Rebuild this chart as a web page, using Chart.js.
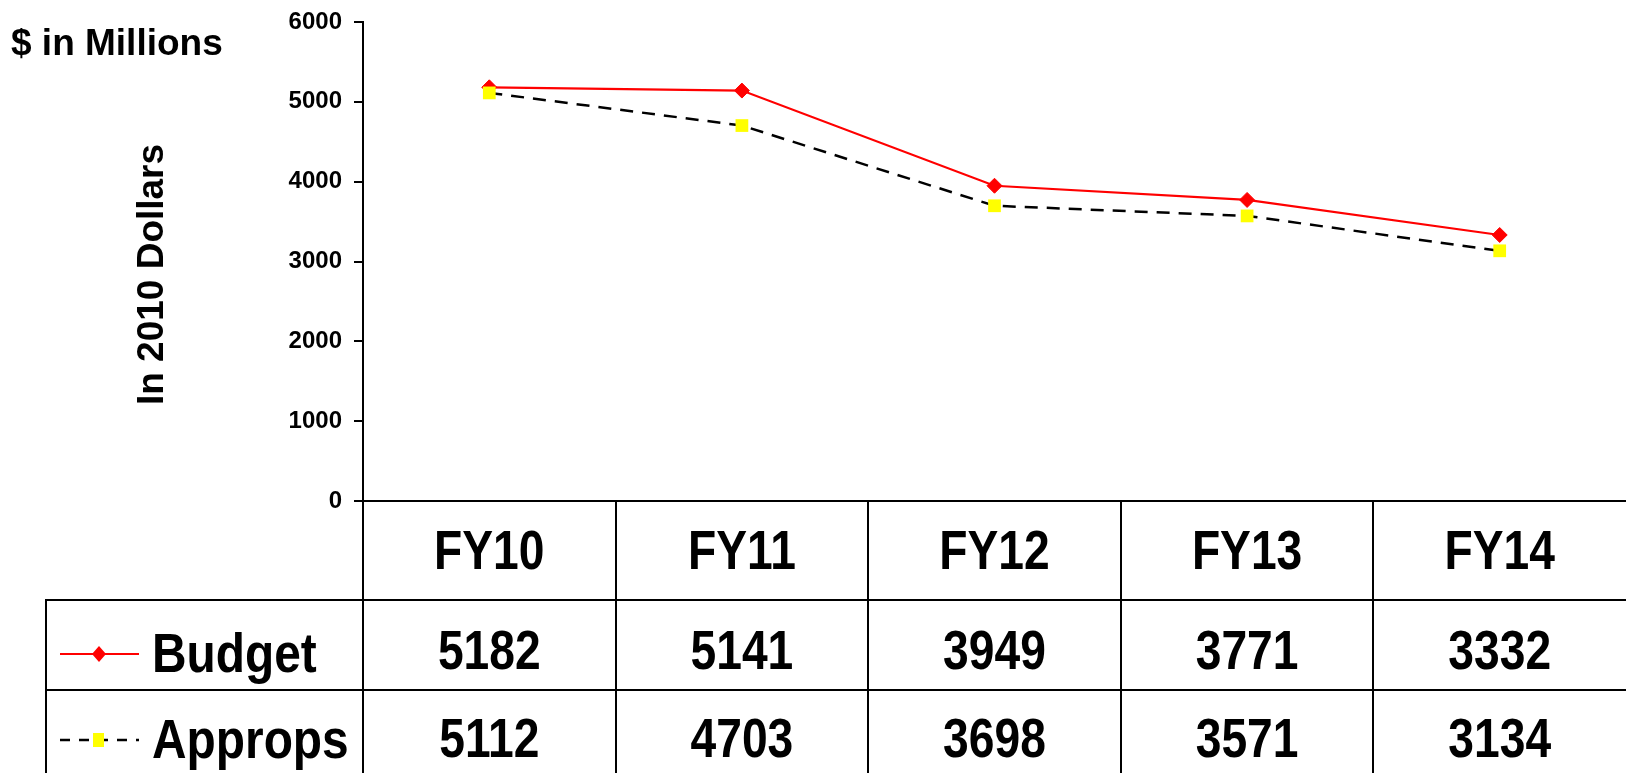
<!DOCTYPE html>
<html>
<head>
<meta charset="utf-8">
<script src="https://cdn.jsdelivr.net/npm/chart.js@4/dist/chart.umd.min.js"></script>
<style>
  html, body { margin: 0; background: #fff; overflow: hidden; }
  #wrap { width: 1626px; height: 773px; position: relative; }
</style>
</head>
<body>
<div id="wrap"><canvas id="fundChart"></canvas></div>
<script>
const years = ["FY10", "FY11", "FY12", "FY13", "FY14"];
const budget = [5182, 5141, 3949, 3771, 3332];
const approps = [5112, 4703, 3698, 3571, 3134];
const seriesNames = ["Budget", "Approps"];
const yMin = 0, yMax = 6000, yStep = 1000;

const FONT = "'Liberation Sans', Arial, Helvetica, sans-serif";

// bold text squeezed sideways, like the narrow face in the original
const narrowText = (ctx, text, x, y, size, squeeze, align) => {
  ctx.save();
  ctx.font = "bold " + size + "px " + FONT;
  ctx.translate(x, y);
  ctx.scale(squeeze, 1);
  ctx.textAlign = align;
  ctx.textBaseline = "alphabetic";
  ctx.fillStyle = "#000";
  ctx.fillText(text, 0, 0);
  ctx.restore();
};

const tablePlugin = {
  id: "dataTable",
  afterDraw(chart) {
    const ctx = chart.ctx;
    const area = chart.chartArea;
    const xs = chart.scales.x;
    const bottom = chart.height;
    const colW = (area.right - area.left) / years.length;
    const headBottom = area.bottom + 99;
    const rowBottom = headBottom + 90;
    const legLeft = 46;

    // grid of the table
    ctx.save();
    ctx.strokeStyle = "#000";
    ctx.lineWidth = 2;
    ctx.beginPath();
    ctx.moveTo(area.left, area.bottom); ctx.lineTo(area.left, bottom);
    for (let i = 1; i < years.length; i++) {
      const x = Math.round(area.left + i * colW);
      ctx.moveTo(x, area.bottom); ctx.lineTo(x, bottom);
    }
    ctx.moveTo(legLeft, headBottom); ctx.lineTo(legLeft, bottom);
    ctx.moveTo(legLeft - 1, headBottom); ctx.lineTo(area.right, headBottom);
    ctx.moveTo(legLeft - 1, rowBottom); ctx.lineTo(area.right, rowBottom);
    ctx.stroke();
    ctx.restore();

    years.forEach((yr, i) => {
      const cx = xs.getPixelForValue(i);
      narrowText(ctx, yr, cx, headBottom - 31, 55, 0.84, "center");
      narrowText(ctx, String(budget[i]), cx, rowBottom - 21, 55, 0.84, "center");
      narrowText(ctx, String(approps[i]), cx, rowBottom + 67, 55, 0.84, "center");
    });

    // legend keys in the first column
    const y1 = rowBottom - 36, y2 = rowBottom + 50;
    ctx.save();
    ctx.strokeStyle = "#ff0000";
    ctx.fillStyle = "#ff0000";
    ctx.lineWidth = 2;
    ctx.beginPath(); ctx.moveTo(60, y1); ctx.lineTo(139, y1); ctx.stroke();
    ctx.beginPath();
    ctx.moveTo(99, y1 - 8); ctx.lineTo(106, y1); ctx.lineTo(99, y1 + 8); ctx.lineTo(92, y1);
    ctx.closePath(); ctx.fill();

    ctx.strokeStyle = "#000";
    ctx.lineWidth = 2.5;
    ctx.setLineDash([10, 9]);
    ctx.beginPath(); ctx.moveTo(60, y2); ctx.lineTo(139, y2); ctx.stroke();
    ctx.setLineDash([]);
    ctx.fillStyle = "#ffff00";
    ctx.fillRect(93, y2 - 7, 11, 14);
    ctx.restore();

    narrowText(ctx, seriesNames[0], 152, rowBottom - 18, 55, 0.87, "left");
    narrowText(ctx, seriesNames[1], 152, rowBottom + 68, 55, 0.87, "left");

    // units and axis caption
    ctx.save();
    ctx.fillStyle = "#000";
    ctx.font = "bold 37px " + FONT;
    ctx.textAlign = "left";
    ctx.textBaseline = "alphabetic";
    ctx.fillText("$ in Millions", 11, 55);
    ctx.translate(163, (area.top + area.bottom) / 2 + 13);
    ctx.rotate(-Math.PI / 2);
    ctx.font = "bold 37px " + FONT;
    ctx.textAlign = "center";
    ctx.fillText("In 2010 Dollars", 0, 0);
    ctx.restore();
  }
};

const ctx = document.getElementById("fundChart").getContext("2d");

new Chart(ctx, {
  type: "line",
  data: {
    labels: years,
    datasets: [
      {
        label: seriesNames[0],
        data: budget,
        borderColor: "#ff0000",
        backgroundColor: "#ff0000",
        borderWidth: 2.2,
        pointStyle: "rectRot",
        pointRadius: 7.5,
        pointBorderWidth: 1,
        tension: 0,
        order: 1
      },
      {
        label: seriesNames[1],
        data: approps,
        borderColor: "#000000",
        borderDash: [13, 9],
        borderWidth: 2.5,
        pointStyle: "rect",
        pointRadius: 9,
        pointBackgroundColor: "#ffff00",
        pointBorderColor: "#ffff00",
        pointBorderWidth: 0,
        tension: 0,
        order: 0
      }
    ]
  },
  options: {
    responsive: true,
    maintainAspectRatio: false,
    animation: false,
    layout: { autoPadding: false, padding: { top: 22, left: 0, right: 0, bottom: 0 } },
    plugins: {
      legend: { display: false },
      tooltip: { enabled: false }
    },
    scales: {
      x: {
        offset: true,
        grid: { display: true, drawOnChartArea: false, drawTicks: false },
        border: { display: true, color: "#000", width: 2 },
        ticks: { display: false },
        afterFit(s) { s.height = 272; }
      },
      y: {
        min: yMin,
        max: yMax,
        ticks: {
          stepSize: yStep,
          color: "#000",
          padding: 12,
          font: { family: FONT, size: 24, weight: "bold" },
          callback: (v) => String(v)
        },
        grid: { drawOnChartArea: false, drawTicks: true, tickLength: 9, color: "#000", lineWidth: 2 },
        border: { color: "#000", width: 2 },
        afterFit(s) { s.width = 363; s.paddingTop = 0; }
      }
    }
  },
  plugins: [tablePlugin]
});
</script>
</body>
</html>
